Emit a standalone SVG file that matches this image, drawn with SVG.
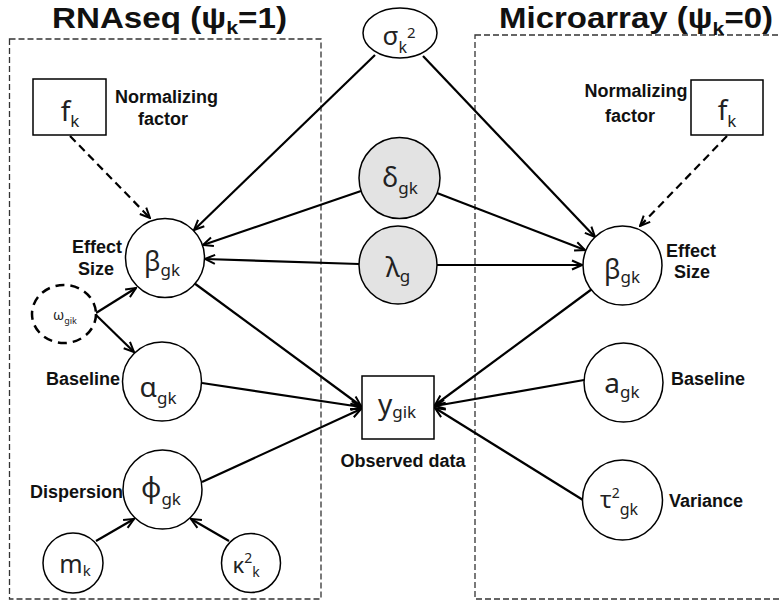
<svg xmlns="http://www.w3.org/2000/svg" width="781" height="607" viewBox="0 0 781 607">
<defs>
<marker id="ah" viewBox="0 0 12 12" refX="11" refY="6" markerWidth="12" markerHeight="12" markerUnits="userSpaceOnUse" orient="auto"><path d="M1,1.5 L11,6 L1,10.5" fill="none" stroke="#000" stroke-width="2"/></marker>
<style>
.nd{fill:#fff;stroke:#000;stroke-width:1.5}
.sh{fill:#e3e3e3;stroke:#000;stroke-width:1.5}
.bx{fill:#fff;stroke:#000;stroke-width:1.5}
.grp{fill:none;stroke:#333;stroke-width:1.3;stroke-dasharray:6 3}
.lbl{font-family:"Liberation Sans",Arial,sans-serif;font-weight:bold;font-size:18px;fill:#111}
.ttl{font-family:"Liberation Sans",Arial,sans-serif;font-weight:bold;font-size:29.5px;fill:#111}
.sym{font-family:"Noto Sans","DejaVu Sans",sans-serif;fill:#222;text-anchor:middle}
.e{stroke:#000;stroke-width:2.2;fill:none;marker-end:url(#ah)}
.d{stroke-dasharray:8 5}
</style>
</defs>
<rect width="781" height="607" fill="#fff"/>
<g id="plates">
<rect class="grp" x="9.5" y="39" width="311.5" height="560"/>
<rect class="grp" x="475" y="35" width="320" height="564"/>
<text class="ttl" x="52" y="28" textLength="235" lengthAdjust="spacingAndGlyphs">RNAseq (ψ<tspan font-size="19" dy="6">k</tspan><tspan dy="-6">=1)</tspan></text>
<text class="ttl" x="499" y="28" textLength="274" lengthAdjust="spacingAndGlyphs">Microarray (ψ<tspan font-size="19" dy="7">k</tspan><tspan dy="-7">=0)</tspan></text>
</g>
<g id="connectors">
<path class="e" d="M375,55 L194,230"/>
<path class="e" d="M423,56 L595,237"/>
<path class="e" d="M361,191 L203,245"/>
<path class="e" d="M437,193 L585,250"/>
<path class="e" d="M359,264 L205,259"/>
<path class="e" d="M437,265 L582,265"/>
<path class="e d" d="M70,136 L150,218"/>
<path class="e d" d="M727,136 L640,226"/>
<path class="e" d="M96,313 L136,288"/>
<path class="e" d="M96,315 L134,352"/>
<path class="e" d="M194,283 L361,406"/>
<path class="e" d="M202,383 L361,407"/>
<path class="e" d="M202,482 L361,409"/>
<path class="e" d="M592,289 L435,405"/>
<path class="e" d="M584,380 L435,406"/>
<path class="e" d="M583,500 L435,408"/>
<path class="e" d="M96,541 L134,519"/>
<path class="e" d="M229,541 L191,519"/>
</g>
<g id="sigma">
<ellipse class="nd" cx="400" cy="33" rx="37" ry="25"/>
<text class="sym" x="399" y="45" font-size="26">σ<tspan font-size="16" dy="8">k</tspan><tspan font-size="15" dy="-15">2</tspan></text>
</g>
<g id="delta">
<circle class="sh" cx="399.5" cy="178" r="40.5"/>
<text class="sym" x="400" y="187" font-size="27">δ<tspan font-size="17" dy="7">gk</tspan></text>
</g>
<g id="lambda">
<circle class="sh" cx="398" cy="265" r="39"/>
<text class="sym" x="398" y="277" font-size="27">λ<tspan font-size="17" dy="5">g</tspan></text>
</g>
<g id="fk-left">
<rect class="bx" x="33" y="79" width="73" height="56"/>
<text class="sym" x="70" y="121" font-size="28">f<tspan font-size="17" dy="6">k</tspan></text>
<text class="lbl" x="115" y="103">Normalizing</text>
<text class="lbl" x="163" y="125" text-anchor="middle">factor</text>
</g>
<g id="fk-right">
<rect class="bx" x="691" y="80" width="72" height="55"/>
<text class="sym" x="727" y="120" font-size="28">f<tspan font-size="17" dy="7">k</tspan></text>
<text class="lbl" x="636" y="97" text-anchor="middle">Normalizing</text>
<text class="lbl" x="630" y="122" text-anchor="middle">factor</text>
</g>
<g id="beta-left">
<circle class="nd" cx="165" cy="258" r="39.5"/>
<text class="sym" x="162" y="271" font-size="27">β<tspan font-size="17" dy="5">gk</tspan></text>
<text class="lbl" x="97" y="253" text-anchor="middle">Effect</text>
<text class="lbl" x="96" y="275" text-anchor="middle">Size</text>
</g>
<g id="beta-right">
<circle class="nd" cx="622.5" cy="265.5" r="39.5"/>
<text class="sym" x="622" y="279" font-size="27">β<tspan font-size="17" dy="4">gk</tspan></text>
<text class="lbl" x="691" y="257" text-anchor="middle">Effect</text>
<text class="lbl" x="692" y="278" text-anchor="middle">Size</text>
</g>
<g id="omega">
<ellipse cx="64" cy="314" rx="32" ry="29" fill="#fff" stroke="#000" stroke-width="2.5" stroke-dasharray="9 6"/>
<text class="sym" x="65" y="320" font-size="14">ω<tspan font-size="9" dy="4">gik</tspan></text>
</g>
<g id="alpha">
<circle class="nd" cx="162" cy="381.5" r="39.5"/>
<text class="sym" x="158" y="397" font-size="28">α<tspan font-size="17" dy="7">gk</tspan></text>
<text class="lbl" x="120" y="385" text-anchor="end">Baseline</text>
</g>
<g id="phi">
<circle class="nd" cx="162.5" cy="489.5" r="39.5"/>
<text class="sym" x="161" y="497" font-size="28">ϕ<tspan font-size="17" dy="8">gk</tspan></text>
<text class="lbl" x="123" y="498" text-anchor="end">Dispersion</text>
</g>
<g id="m">
<circle class="nd" cx="73" cy="563" r="30"/>
<text class="sym" x="75" y="573" font-size="25">m<tspan font-size="15" dy="3">k</tspan></text>
</g>
<g id="kappa">
<circle class="nd" cx="251" cy="563" r="29.5"/>
<text class="sym" x="246" y="573" font-size="22">κ<tspan font-size="14" dy="-10">2</tspan><tspan font-size="14" dy="14">k</tspan></text>
</g>
<g id="y">
<rect class="bx" x="362" y="376" width="72" height="63"/>
<text class="sym" x="397" y="414" font-size="28">y<tspan font-size="17" dy="4">gik</tspan></text>
<text class="lbl" x="403" y="467" text-anchor="middle">Observed data</text>
</g>
<g id="a">
<circle class="nd" cx="623.5" cy="382.5" r="39.5"/>
<text class="sym" x="622" y="393" font-size="28">a<tspan font-size="17" dy="5">gk</tspan></text>
<text class="lbl" x="671" y="385">Baseline</text>
</g>
<g id="tau">
<circle class="nd" cx="622.5" cy="500" r="40"/>
<text class="sym" x="619" y="508" font-size="24">τ<tspan font-size="14" dy="-10">2</tspan><tspan font-size="16" dy="17">gk</tspan></text>
<text class="lbl" x="669" y="507">Variance</text>
</g>
</svg>
